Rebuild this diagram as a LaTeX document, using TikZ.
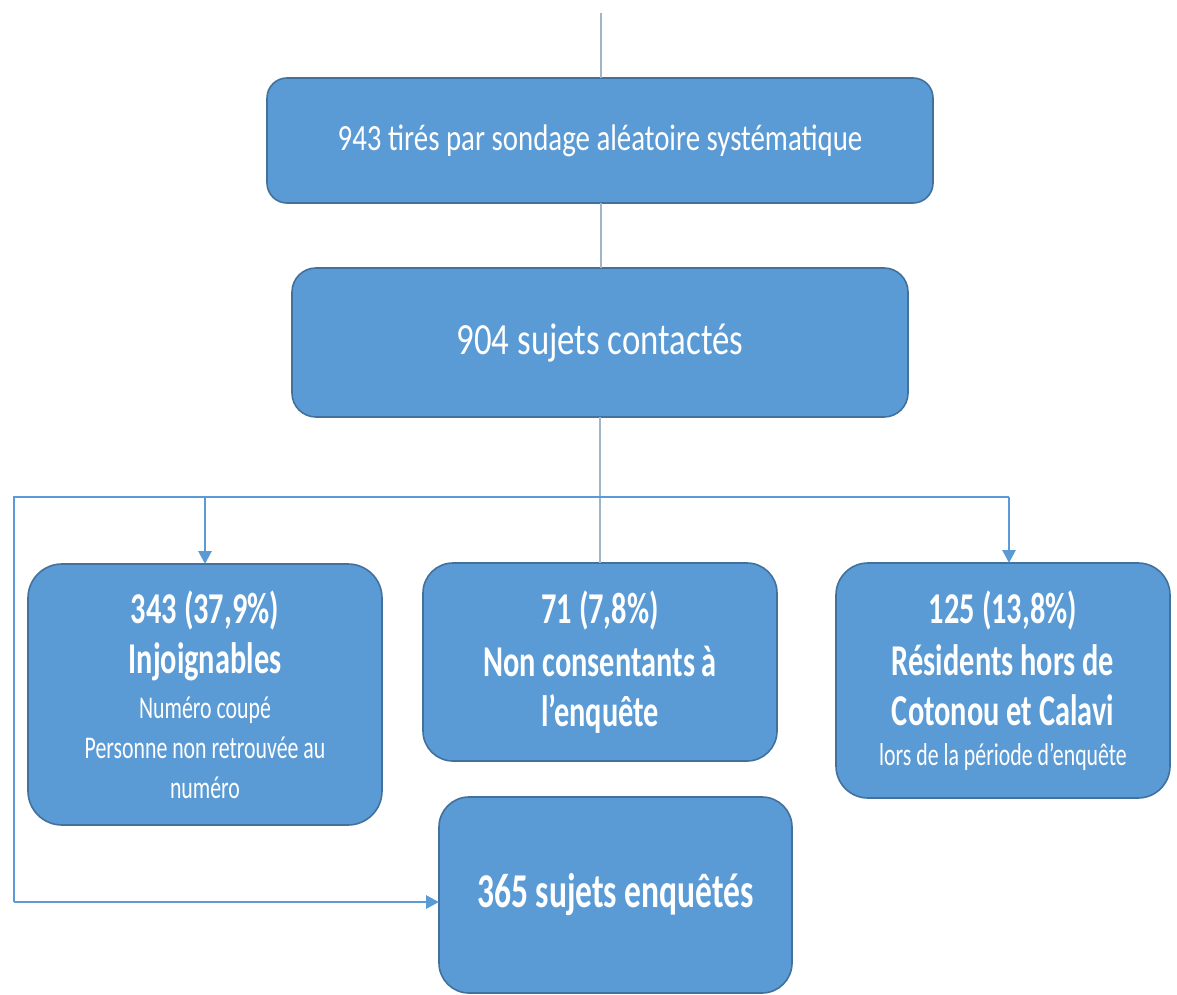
\documentclass[tikz,border=0pt]{standalone}
\usepackage{fontspec}
\setmainfont{Carlito}
\newfontfamily\fwide[FakeStretch=0.78]{Carlito}
\newfontfamily\fnarrow[FakeStretch=0.69]{Carlito}
\usetikzlibrary{arrows.meta}
\definecolor{boxfill}{HTML}{5B9BD5}
\definecolor{boxdraw}{HTML}{41719C}
\definecolor{connblue}{HTML}{5B9BD5}
\definecolor{conngray}{HTML}{9FB6C8}
\tikzset{
  box/.style={draw=boxdraw, fill=boxfill, line width=0.8pt, text=white, align=center, inner sep=0pt, outer sep=0pt},
  gline/.style={draw=conngray, line width=0.9pt},
  bline/.style={draw=connblue, line width=1.4pt},
  tip/.style={-{Triangle[length=6.5pt,width=6.5pt]}}
}
\newcommand{\bl}[1]{{\fontsize{22}{20}\selectfont\bfseries #1}}
\begin{document}
\begin{tikzpicture}[x=0.5pt,y=-0.5pt]
\fill[white] (0,0) rectangle (1177,995);
\path[use as bounding box] (0,0) rectangle (1177,995);

\node[box, minimum width=333pt, minimum height=62.5pt, rounded corners=10pt,
      font=\fwide\fontsize{18.5}{20}\selectfont] (b1) at (600,140.5)
  {943 tirés par sondage aléatoire systématique};
\node[box, minimum width=308pt, minimum height=74.5pt, rounded corners=12pt,
      font=\fwide\fontsize{22.3}{20}\selectfont] (b2) at (600,342.5)
  {904 sujets contactés};
\node[box, minimum width=177pt, minimum height=130.5pt, rounded corners=17pt,
      font=\fnarrow\fontsize{15.8}{20}\selectfont] (b3) at (205,694.5)
  {\bl{343 (37,9\%)}\\[5pt]\bl{Injoignables}\\[2.5pt]Numéro coupé\\Personne non retrouvée au\\numéro};
\node[box, minimum width=177pt, minimum height=99pt, rounded corners=15pt,
      font=\fnarrow\fontsize{15.8}{20}\selectfont] (b4) at (600,662)
  {\bl{71 (7,8\%)}\\[6.5pt]\bl{Non consentants à}\\[5pt]\bl{l’enquête}};
\node[box, minimum width=167pt, minimum height=117.5pt, rounded corners=16pt,
      font=\fnarrow\fontsize{15.8}{20}\selectfont] (b5) at (1003,680.5)
  {\bl{125 (13,8\%)}\\[6pt]\bl{Résidents hors de}\\[5pt]\bl{Cotonou et Calavi}\\lors de la période d’enquête};
\node[box, minimum width=176.5pt, minimum height=98pt, rounded corners=15pt,
      font=\fnarrow\fontsize{24.3}{24}\selectfont\bfseries] (b6) at (615.5,895)
  {365 sujets enquêtés};

\coordinate (top) at (601,13);
\coordinate (hl) at (14,497);
\coordinate (hr) at (1009,497);
\coordinate (lc) at (14,902);

\draw[gline] (top) -- (b1.north -| top);
\draw[gline] (b1.south -| top) -- (b2.north -| top);
\draw[gline] (b2.south) -- (b4.north);
\draw[bline] (hr) -- (hl) -- (lc);
\draw[bline, tip] (lc) -- (b6.west |- lc);
\draw[bline, tip] (b3.north |- hl) -- (b3.north);
\draw[bline, tip] (hr) -- (b5.north -| hr);
\end{tikzpicture}
\end{document}
